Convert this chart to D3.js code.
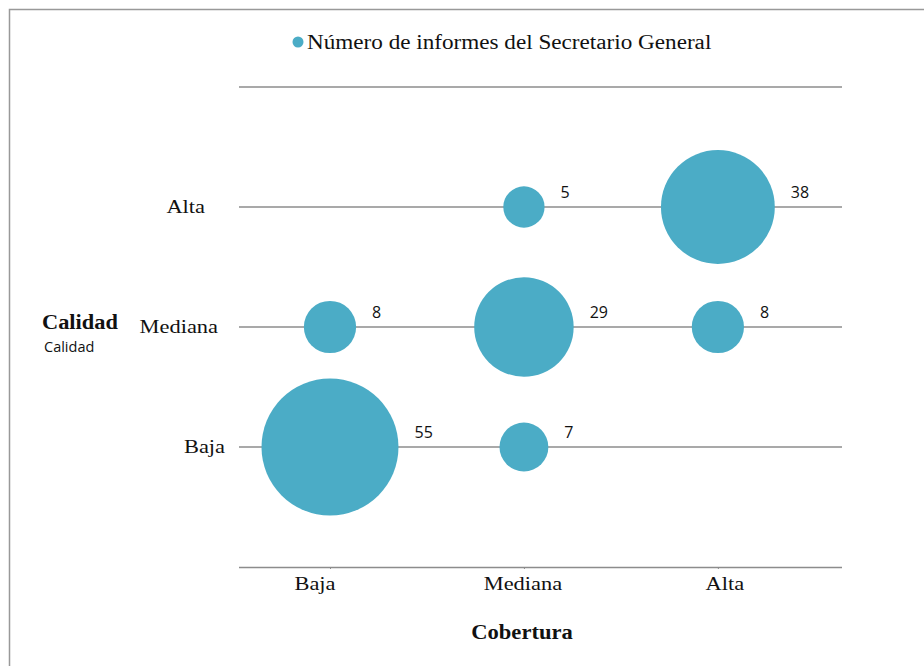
<!DOCTYPE html>
<html><head><meta charset="utf-8">
<script src="https://cdn.jsdelivr.net/npm/d3@7"></script>
<style>body{margin:0;background:#fff}svg{display:block}</style>
</head><body><svg id="c" width="924" height="666"></svg>
<script>
const categories = ["Baja", "Mediana", "Alta"];
const cobertura = [1, 1, 2, 2, 2, 3, 3];      // x index (1=Baja,2=Mediana,3=Alta)
const calidad   = [1, 2, 1, 2, 3, 2, 3];      // y index
const informes  = [55, 8, 7, 29, 5, 8, 38];
const seriesName = "Número de informes del Secretario General";

const svg = d3.select("#c");
const color = "#4BACC6";
const serif = "'Liberation Serif','Times New Roman',serif";
const sans = "'Open Sans','Noto Sans',sans-serif";

// stretched serif text helper
function stext(px, py, str, size, sx, anchor, bold) {
  const g = svg.append("g").attr("transform", `translate(${px},${py}) scale(${sx},1)`);
  g.append("text").attr("text-anchor", anchor).attr("font-family", serif)
    .attr("font-size", size).attr("font-weight", bold ? "bold" : "normal")
    .attr("fill", "#111").text(str);
}

// frame
svg.append("path").attr("d","M9.5,666 V9.5 H924").attr("fill","none").attr("stroke","#999").attr("stroke-width",1.5);

const x = d3.scaleLinear().domain([0.536, 3.64]).range([240, 842]);
const y = d3.scaleLinear().domain([0, 4]).range([567, 87]);
const r = d3.scaleSqrt().domain([0, 55]).range([0, 68.5]);

// gridlines
const gy = [1,2,3,4];
svg.selectAll("line.g").data(gy).join("line")
  .attr("x1", 239).attr("x2", 842)
  .attr("y1", d=>y(d)).attr("y2", d=>y(d))
  .attr("stroke","#8c8c8c").attr("stroke-width",1.3);
// x axis
const xAxis = d3.axisBottom(x).tickValues([1,2,3]).tickSize(2).tickFormat("");
const gx = svg.append("g").attr("transform",`translate(0,${y(0)})`).call(xAxis);
gx.select(".domain").attr("d","M239,0.5H842").attr("stroke","#8c8c8c").attr("stroke-width",1.5);
gx.selectAll(".tick line").attr("stroke","#8c8c8c");

// x labels
const xdx = [-15, -1, 7];
categories.forEach((c,i)=> stext(x(i+1)+xdx[i], 590, c, 19, 1.18, "middle", false));
// y labels
const yEnd = [225, 218, 205];
categories.forEach((c,i)=> stext(yEnd[i], y(i+1)+6, c, 19, 1.18, "end", false));

// bubbles
const data = informes.map((v,i)=>({x:cobertura[i], y:calidad[i], v}));
svg.selectAll("circle.b").data(data).join("circle")
  .attr("cx",d=>x(d.x)).attr("cy",d=>y(d.y)).attr("r",d=>r(d.v)).attr("fill",color);
svg.selectAll("text.v").data(data).join("text")
  .attr("x",d=>x(d.x)+r(d.v)+16).attr("y",d=>y(d.y)-9)
  .attr("font-family",sans).attr("font-size",16).attr("fill","#111").text(d=>d.v);

// titles
stext(42, 329, "Calidad", 20, 1.12, "start", true);
svg.append("text").attr("x",44).attr("y",352).attr("font-family",sans)
  .attr("font-size",14.5).attr("fill","#111").text("Calidad");
stext(522, 639, "Cobertura", 20, 1.13, "middle", true);

// legend
svg.append("circle").attr("cx",298).attr("cy",42).attr("r",5.5).attr("fill",color);
stext(307, 49, seriesName, 20.5, 1.13, "start", false);
</script></body></html>
